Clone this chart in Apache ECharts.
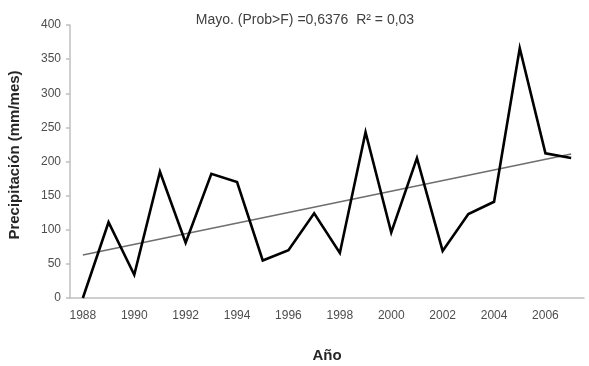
<!DOCTYPE html>
<html>
<head>
<meta charset="utf-8">
<script src="https://cdn.jsdelivr.net/npm/echarts@6/dist/echarts.min.js"></script>
<style>
  html, body { margin: 0; padding: 0; background: #fff; }
  #chart { width: 589px; height: 366px; }
</style>
</head>
<body>
<div id="chart"></div>
<script>
// Monthly precipitation for May, 1988-2007
const years = ['1988','1989','1990','1991','1992','1993','1994','1995','1996','1997',
               '1998','1999','2000','2001','2002','2003','2004','2005','2006','2007'];
const precip = [0, 111, 34, 185, 81, 182, 170, 55, 70, 124,
                66, 243, 96, 205, 69, 123, 141, 366, 212, 205];
// Linear trend: values at the first and last year
const trendEnds = [63, 211];
const yTicks = { min: 0, max: 400, interval: 50 };
const titleText = 'Mayo. (Prob>F) =0,6376  R\u00B2 = 0,03';

const trendData = years.map((_, i) =>
  i === 0 ? trendEnds[0] : (i === years.length - 1 ? trendEnds[1] : null));

const axisGrey = '#bfbfbf';
const textGrey = '#4d4d4d';
const font = 'Liberation Sans, Arial, sans-serif';

const chart = echarts.init(document.getElementById('chart'), null, { renderer: 'canvas' });
chart.setOption({
  animation: false,
  backgroundColor: '#fff',
  title: {
    text: titleText,
    left: 300, top: 8,
    textAlign: 'center',
    textStyle: { fontFamily: font, fontSize: 14, fontWeight: 'normal', color: '#404040' }
  },
  grid: { left: 70, right: 5, top: 25, bottom: 68, outerBoundsMode: 'none', containLabel: false },
  xAxis: {
    type: 'category',
    data: years,
    boundaryGap: true,
    name: 'Año',
    nameLocation: 'middle',
    nameGap: 50,
    nameTextStyle: { fontFamily: font, fontSize: 15, fontWeight: 'bold', color: '#262626' },
    axisLine: { lineStyle: { color: axisGrey, width: 1.5 } },
    axisTick: { interval: 0, length: 4, lineStyle: { color: axisGrey, width: 1.5 } },
    axisLabel: { interval: 1, margin: 12, fontFamily: font, fontSize: 12, color: textGrey },
    splitLine: { show: false }
  },
  yAxis: {
    type: 'value',
    min: yTicks.min, max: yTicks.max, interval: yTicks.interval,
    name: 'Precipitación (mm/mes)',
    nameLocation: 'middle',
    nameGap: 48,
    nameTextStyle: {
      fontFamily: font, fontSize: 15, fontWeight: 'bold', color: '#262626',
      padding: [0, 0, 0, 13]
    },
    axisLine: { show: true, lineStyle: { color: axisGrey, width: 1.5 } },
    axisTick: { show: true, length: 4, lineStyle: { color: axisGrey, width: 1.5 } },
    axisLabel: { margin: 9, fontFamily: font, fontSize: 12, color: textGrey },
    splitLine: { show: false }
  },
  series: [
    {
      name: 'Tendencia',
      type: 'line',
      data: trendData,
      connectNulls: true,
      symbol: 'none',
      lineStyle: { color: '#6e6e6e', width: 1.6 },
      z: 2
    },
    {
      name: 'Precipitación',
      type: 'line',
      data: precip,
      symbol: 'none',
      lineStyle: { color: '#000', width: 2.6, join: 'miter' },
      z: 3
    }
  ]
});
</script>
</body>
</html>
